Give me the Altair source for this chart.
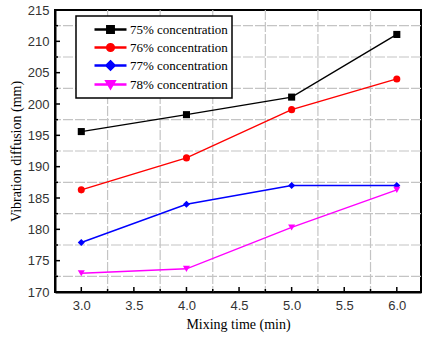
import altair as alt
import pandas as pd

series = ["75% concentration", "76% concentration", "77% concentration", "78% concentration"]
mix_time = [3.0, 4.0, 5.0, 6.0]
v75 = [195.6, 198.3, 201.1, 211.1]
v76 = [186.3, 191.4, 199.1, 204.0]
v77 = [177.9, 184.0, 187.0, 187.0]
v78 = [173.0, 173.7, 180.3, 186.3]
colors = ["#000000", "#ff0000", "#0000ff", "#ff00ff"]
shapes = ["square", "circle", "diamond", "triangle-down"]
legend_paths = [
    "M-2,0L2,0M-0.4,-0.4L0.4,-0.4L0.4,0.4L-0.4,0.4Z",
    "M-2,0L2,0M-0.42,0A0.42,0.42 0 1,0 0.42,0A0.42,0.42 0 1,0 -0.42,0Z",
    "M-2,0L2,0M0,-0.5L0.5,0L0,0.5L-0.5,0Z",
    "M-2,0L2,0M-0.5,-0.4L0.5,-0.4L0,0.45Z",
]

x_labels = [3.0, 3.5, 4.0, 4.5, 5.0, 5.5, 6.0]
x_minor = [3.25, 3.75, 4.25, 4.75, 5.25, 5.75]
y_labels = [170, 175, 180, 185, 190, 195, 200, 205, 210, 215]
y_minor = [172.5, 177.5, 182.5, 187.5, 192.5, 197.5, 202.5, 207.5, 212.5]

rows = []
for s, vals in zip(series, [v75, v76, v77, v78]):
    for t, v in zip(mix_time, vals):
        rows.append({"time": t, "value": v, "series": s})
df = pd.DataFrame(rows)

W, H = 366, 282
xs = alt.Scale(domain=[2.75, 6.23], nice=False, zero=False)
ys = alt.Scale(domain=[170, 215], nice=False, zero=False)

grid_style = dict(color="#c4c4c4", strokeWidth=1.2, strokeDash=[10, 2])
gx = alt.Chart(pd.DataFrame({"x": x_minor})).mark_rule(**grid_style).encode(
    x=alt.X("x:Q", scale=xs, axis=None))
gy = alt.Chart(pd.DataFrame({"y": y_minor})).mark_rule(**grid_style).encode(
    y=alt.Y("y:Q", scale=ys, axis=None))

tick_style = dict(color="black", strokeWidth=1.5)
tx_major = alt.Chart(pd.DataFrame({"x": x_labels})).mark_rule(**tick_style).encode(
    x=alt.X("x:Q", scale=xs, axis=None), y=alt.value(H), y2=alt.value(H - 5))
tx_minor = alt.Chart(pd.DataFrame({"x": x_minor})).mark_rule(**tick_style).encode(
    x=alt.X("x:Q", scale=xs, axis=None), y=alt.value(H), y2=alt.value(H - 3))
ty_major = alt.Chart(pd.DataFrame({"y": y_labels})).mark_rule(**tick_style).encode(
    y=alt.Y("y:Q", scale=ys, axis=None), x=alt.value(0), x2=alt.value(5))
ty_minor = alt.Chart(pd.DataFrame({"y": y_minor})).mark_rule(**tick_style).encode(
    y=alt.Y("y:Q", scale=ys, axis=None), x=alt.value(0), x2=alt.value(3))

cscale = alt.Scale(domain=series, range=colors)

lines = alt.Chart(df).mark_line(strokeWidth=1.4).encode(
    x=alt.X("time:Q", scale=xs, title="Mixing time (min)",
            axis=alt.Axis(values=x_labels, format=".1f", ticks=False, grid=False,
                          domainColor="black", domainWidth=2,
                          labelFont="Liberation Sans", labelFontSize=13, labelColor="#333333",
                          labelPadding=7, titleFont="Liberation Serif", titleFontSize=14,
                          titleFontWeight="normal", titleColor="black", titlePadding=5)),
    y=alt.Y("value:Q", scale=ys, title="Vibration diffusion (mm)",
            axis=alt.Axis(values=y_labels, format="d", ticks=False, grid=False,
                          domainColor="black", domainWidth=2,
                          labelFont="Liberation Sans", labelFontSize=13, labelColor="#333333",
                          labelPadding=6, titleFont="Liberation Serif", titleFontSize=14,
                          titleFontWeight="normal", titleColor="black", titlePadding=4)),
    color=alt.Color("series:N", scale=cscale, legend=None),
    detail="series:N",
)

points = alt.Chart(df).mark_point(filled=True, size=50, opacity=1).encode(
    x=alt.X("time:Q", scale=xs, axis=None),
    y=alt.Y("value:Q", scale=ys, axis=None),
    color=alt.Color("series:N", scale=cscale, legend=None),
    shape=alt.Shape("series:N", scale=alt.Scale(domain=series, range=shapes), legend=None),
)

leg_props = dict(orient="none", legendX=21, legendY=6)
leg = alt.Chart(df).transform_filter("false").mark_point(
    filled=True, size=256, strokeWidth=2.5, opacity=1).encode(
    x=alt.X("time:Q", scale=xs, axis=None),
    y=alt.Y("value:Q", scale=ys, axis=None),
    fill=alt.Fill("series:N", scale=alt.Scale(domain=series, range=colors), title=None,
                  legend=alt.Legend(**leg_props)),
    stroke=alt.Stroke("series:N", scale=alt.Scale(domain=series, range=colors), title=None,
                      legend=alt.Legend(**leg_props)),
    shape=alt.Shape("series:N", scale=alt.Scale(domain=series, range=legend_paths), title=None,
                    legend=alt.Legend(**leg_props)),
)

chart = alt.layer(gx, gy, tx_major, tx_minor, ty_major, ty_minor, lines, points, leg).resolve_scale(
    color="independent", shape="independent", fill="independent", stroke="independent"
).resolve_axis(x="independent", y="independent").properties(
    width=W, height=H,
    autosize=alt.AutoSizeParams(type="none"),
    padding={"left": 55, "top": 10, "right": 11, "bottom": 53},
    background="white",
).configure_view(stroke="black", strokeWidth=2).configure_legend(
    strokeColor="black", strokeWidth=1.5, fillColor="white", padding=4,
    labelFont="Liberation Serif", labelFontSize=13, labelColor="black",
    symbolStrokeWidth=2.5, symbolOpacity=1, symbolSize=256, rowPadding=-2,
    symbolOffset=21, labelOffset=10,
)

chart.save("out.html", embed_options={"renderer": "svg", "actions": False})
